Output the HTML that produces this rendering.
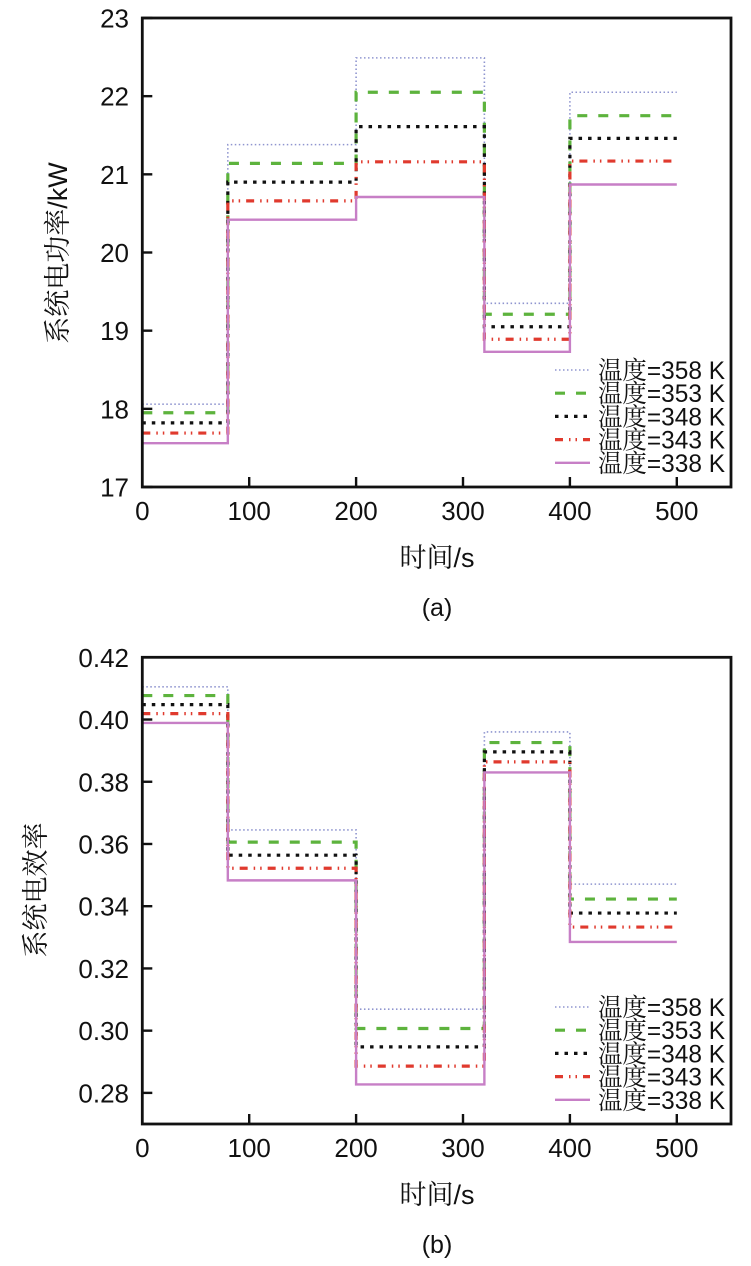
<!DOCTYPE html>
<html><head><meta charset="utf-8">
<style>
html,body{margin:0;padding:0;background:#fff;}
svg{display:block;font-family:"Liberation Sans","Noto Serif CJK SC",serif;}
</style></head>
<body>
<svg id="chart" width="751" height="1266" viewBox="0 0 751 1266"></svg>
<script>
const timeBreaks = [0, 80, 200, 320, 400, 500];
const seriesLabels = ["温度=358 K", "温度=353 K", "温度=348 K", "温度=343 K", "温度=338 K"];
const powerT358 = [18.06, 21.38, 22.49, 19.35, 22.05];
const powerT353 = [17.95, 21.14, 22.05, 19.21, 21.75];
const powerT348 = [17.82, 20.90, 21.61, 19.05, 21.46];
const powerT343 = [17.69, 20.66, 21.16, 18.89, 21.17];
const powerT338 = [17.56, 20.42, 20.71, 18.73, 20.87];
const effT358 = [0.4105, 0.3645, 0.3069, 0.3960, 0.3471];
const effT353 = [0.4077, 0.3606, 0.3007, 0.3926, 0.3423];
const effT348 = [0.4048, 0.3564, 0.2948, 0.3896, 0.3378];
const effT343 = [0.4019, 0.3522, 0.2886, 0.3864, 0.3333];
const effT338 = [0.3989, 0.3483, 0.2827, 0.3830, 0.3285];
const xTicks = [0, 100, 200, 300, 400, 500];
const powerTicks = [17, 18, 19, 20, 21, 22, 23];
const effTicks = [0.28, 0.30, 0.32, 0.34, 0.36, 0.38, 0.40, 0.42];
const effTickLabels = ["0.28","0.30","0.32","0.34","0.36","0.38","0.40","0.42"];

const NS = "http://www.w3.org/2000/svg";
const svg = document.getElementById("chart");
const styles = [
  {stroke:"#8f95cf", w:1.6, dash:"1.5 2.5"},
  {stroke:"#5db33d", w:3.2, dash:"10 11"},
  {stroke:"#111", w:3.2, dash:"3.5 6"},
  {stroke:"#e03a2e", w:3.2, dash:"8 6 1.5 5 1.5 6"},
  {stroke:"#c77fc6", w:2.4, dash:""}
];
function mk(tag, attrs, parent){
  const e = document.createElementNS(NS, tag);
  for (const k in attrs) e.setAttribute(k, attrs[k]);
  (parent||svg).appendChild(e);
  return e;
}
function panel(cfg){
  const g = mk("g", {});
  
  
  const L=142.3, R=731, T=cfg.top, B=cfg.bottom;
  const xs = v => L + v * 1.069;
  const ys = v => B - (v - cfg.ymin) / (cfg.ymax - cfg.ymin) * (B - T);
  cfg.series.forEach((vals, si) => {
    let d = "";
    vals.forEach((v, i) => {
      const x0 = xs(timeBreaks[i]), x1 = xs(timeBreaks[i+1]), y = ys(v);
      d += (i === 0 ? "M" : "L") + x0 + " " + y + " L" + x1 + " " + y + " ";
    });
    const st = styles[si];
    const p = mk("path", {d: d, fill:"none", stroke:st.stroke, "stroke-width":st.w, "stroke-dasharray":st.dash}, g);
    
    
  });
  const fr = mk("rect", {x:L, y:T, width:R-L, height:B-T, fill:"none", stroke:"#111", "stroke-width":2.8}, g);
  
  
  xTicks.forEach(t => {
    const x = xs(t);
    mk("line", {x1:x, y1:B, x2:x, y2:B-10, stroke:"#111", "stroke-width":2.4}, g);
    const tx = mk("text", {x:x, y:B+33, "font-size":26, "text-anchor":"middle", fill:"#111"}, g);
    tx.textContent = t;
    
    
  });
  cfg.yticks.forEach((t, i) => {
    const y = ys(t);
    mk("line", {x1:L, y1:y, x2:L+10, y2:y, stroke:"#111", "stroke-width":2.4}, g);
    const tx = mk("text", {x:129, y:y+9.5, "font-size":26, "text-anchor":"end", fill:"#111"}, g);
    tx.textContent = cfg.ylabels[i];
    
    
  });
  const xt = mk("text", {x:437, y:B+80, "font-size":27, "text-anchor":"middle", fill:"#111"}, g);
  xt.textContent = "时间/s";
  
  
  const yt = mk("text", {x:0, y:0, "font-size":27, "text-anchor":"middle", fill:"#111",
    transform:"translate(" + (cfg.ytx+10) + "," + cfg.yty + ") rotate(-90)"}, g);
  yt.textContent = cfg.ytitle;
  
  
  const cap = mk("text", {x:437, y:B+129, "font-size":25, "text-anchor":"middle", fill:"#111"}, g);
  cap.textContent = cfg.caption;
  
  
  seriesLabels.forEach((lab, i) => {
    const y = B - 117 + i * 23.2;
    const st = styles[i];
    const ln = mk("line", {x1:555, y1:y, x2:590, y2:y, stroke:st.stroke, "stroke-width":st.w, "stroke-dasharray":st.dash}, g);
    
    
    const tx = mk("text", {x:598, y:y+9, "font-size":25, fill:"#111", textLength:127, lengthAdjust:"spacingAndGlyphs"}, g);
    tx.textContent = lab;
    
    
  });
}
panel({name:"power-chart", top:18, bottom:487, ymin:17, ymax:23,
  series:[powerT358,powerT353,powerT348,powerT343,powerT338],
  yticks:powerTicks, ylabels:powerTicks.map(String),
  ytitle:"系统电功率/kW", ytx:57, yty:253, caption:"(a)"});
panel({name:"efficiency-chart", top:657.3, bottom:1124, ymin:0.27, ymax:0.42,
  series:[effT358,effT353,effT348,effT343,effT338],
  yticks:effTicks, ylabels:effTickLabels,
  ytitle:"系统电效率", ytx:35, yty:890, caption:"(b)"});
</script>
</body></html>
